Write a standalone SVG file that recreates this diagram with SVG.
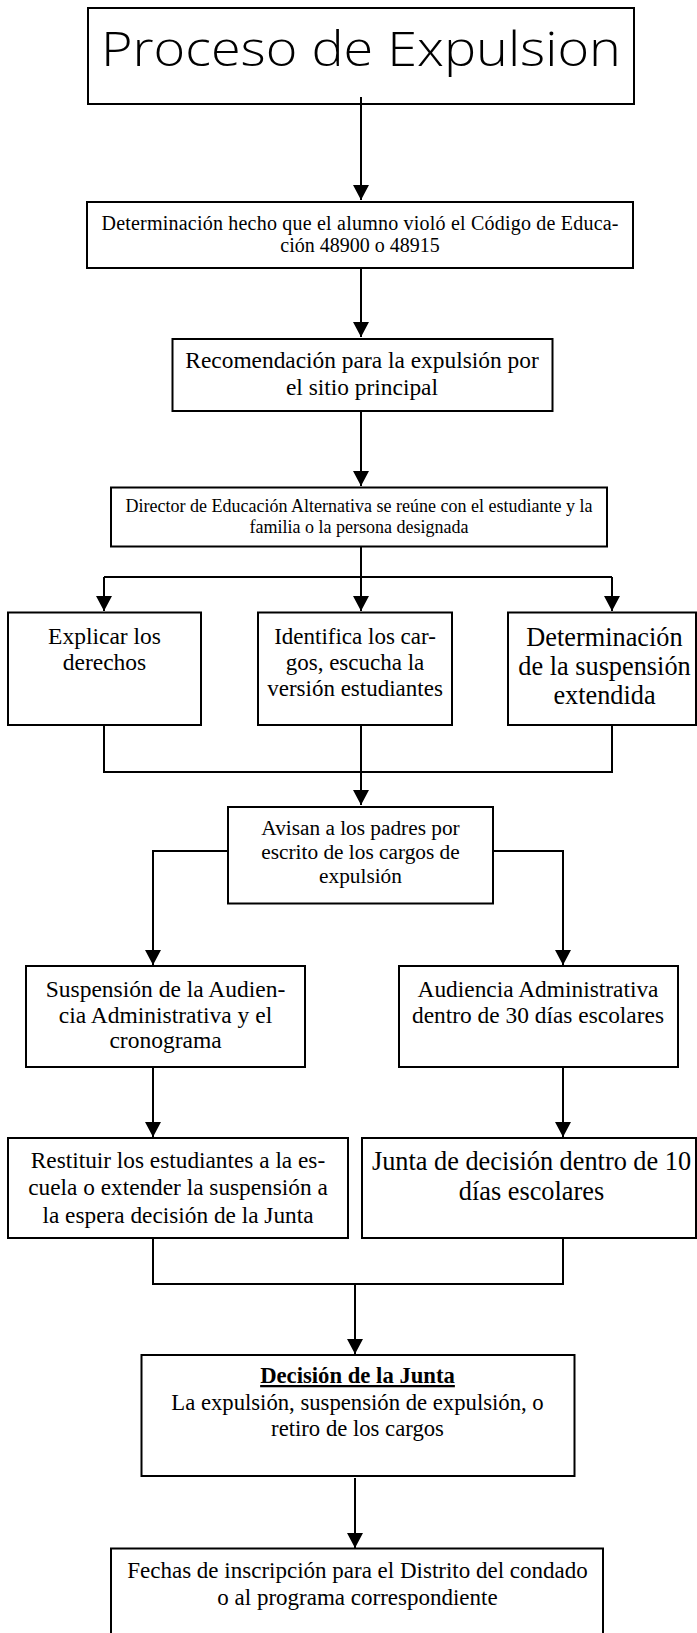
<svg xmlns="http://www.w3.org/2000/svg" width="697" height="1633" viewBox="0 0 697 1633">
<style>
.box{fill:#fff;stroke:#000;stroke-width:2}
.t{font-family:"Liberation Serif","Times New Roman",serif;fill:#000;text-anchor:middle}
.title{font-family:"Open Sans","DejaVu Sans",sans-serif;font-weight:300;fill:#000}
.c{fill:none;stroke:#000;stroke-width:2}
</style>
<defs>
<marker id="ah" markerUnits="userSpaceOnUse" markerWidth="15" markerHeight="16" viewBox="0 0 15 16" refX="15" refY="8" orient="auto">
<path d="M0,0 L15,8 L0,16 z" fill="#000"/>
</marker>
</defs>
<g id="n1"><rect class="box" x="88" y="8" width="546" height="96"/>
<text class="title" x="101" y="66" font-size="48" textLength="520" lengthAdjust="spacingAndGlyphs">Proceso de Expulsion</text></g>
<g id="connectors">
<path class="c" d="M361,97 V200" marker-end="url(#ah)"/>
<path class="c" d="M361,268 V337" marker-end="url(#ah)"/>
<path class="c" d="M361,411 V486" marker-end="url(#ah)"/>
<path class="c" d="M361,547 V577 M104,577 H612"/>
<path class="c" d="M104,577 V611" marker-end="url(#ah)"/>
<path class="c" d="M361,577 V611" marker-end="url(#ah)"/>
<path class="c" d="M612,577 V611" marker-end="url(#ah)"/>
<path class="c" d="M104,725 V772 H612 V725"/>
<path class="c" d="M361,725 V805" marker-end="url(#ah)"/>
<path class="c" d="M228,851 H153 V965" marker-end="url(#ah)"/>
<path class="c" d="M493,851 H563 V965" marker-end="url(#ah)"/>
<path class="c" d="M153,1067 V1137" marker-end="url(#ah)"/>
<path class="c" d="M563,1067 V1137" marker-end="url(#ah)"/>
<path class="c" d="M153,1238 V1284 H563 V1238"/>
<path class="c" d="M355,1284 V1354" marker-end="url(#ah)"/>
<path class="c" d="M355,1478 V1548" marker-end="url(#ah)"/>
</g>
<g id="n2"><rect class="box" x="87" y="202" width="546" height="66"/>
<text class="t" font-size="20" x="360" y="230" textLength="517" lengthAdjust="spacing">Determinación hecho que el alumno violó el Código de Educa-</text>
<text class="t" font-size="20" x="360" y="252">ción 48900 o 48915</text></g>
<g id="n3"><rect class="box" x="172.5" y="339" width="380" height="72"/>
<text class="t" font-size="23.4" x="362" y="368">Recomendación para la expulsión por</text>
<text class="t" font-size="23.4" x="362" y="395">el sitio principal</text></g>
<g id="n4"><rect class="box" x="111" y="487.5" width="496" height="59"/>
<text class="t" font-size="18" x="359" y="511.5">Director de Educación Alternativa se reúne con el estudiante y la</text>
<text class="t" font-size="18" x="359" y="532.5">familia o la persona designada</text></g>
<g id="n5"><rect class="box" x="8" y="612.5" width="193" height="112.5"/>
<text class="t" font-size="23.5" x="104.5" y="643.5">Explicar los</text>
<text class="t" font-size="23.5" x="104.5" y="670">derechos</text></g>
<g id="n6"><rect class="box" x="258" y="612.5" width="194" height="112.5"/>
<text class="t" font-size="23" x="355" y="643.5">Identifica los car-</text>
<text class="t" font-size="23" x="355" y="670">gos, escucha la</text>
<text class="t" font-size="23" x="355" y="696">versión estudiantes</text></g>
<g id="n7"><rect class="box" x="508" y="612.5" width="188" height="112.5"/>
<text class="t" font-size="26.3" x="604.5" y="646">Determinación</text>
<text class="t" font-size="26.3" x="604.5" y="675">de la suspensión</text>
<text class="t" font-size="26.3" x="604.5" y="704">extendida</text></g>
<g id="n8"><rect class="box" x="228" y="807" width="265" height="96.5"/>
<text class="t" font-size="21.3" x="360.5" y="835">Avisan a los padres por</text>
<text class="t" font-size="21.3" x="360.5" y="859">escrito de los cargos de</text>
<text class="t" font-size="21.3" x="360.5" y="883">expulsión</text></g>
<g id="n9"><rect class="box" x="26" y="966" width="279" height="101"/>
<text class="t" font-size="23.5" x="165.5" y="997">Suspensión de la Audien-</text>
<text class="t" font-size="23.5" x="165.5" y="1022.5">cia Administrativa y el</text>
<text class="t" font-size="23.5" x="165.5" y="1048">cronograma</text></g>
<g id="n10"><rect class="box" x="399" y="966" width="279" height="101"/>
<text class="t" font-size="23.4" x="538" y="997">Audiencia Administrativa</text>
<text class="t" font-size="23.4" x="538" y="1022.5">dentro de 30 días escolares</text></g>
<g id="n11"><rect class="box" x="8" y="1138" width="340" height="100"/>
<text class="t" font-size="23.3" x="178" y="1167.5">Restituir los estudiantes a la es-</text>
<text class="t" font-size="23.3" x="178" y="1195">cuela o extender la suspensión a</text>
<text class="t" font-size="23.3" x="178" y="1222.5">la espera decisión de la Junta</text></g>
<g id="n12"><rect class="box" x="362" y="1138" width="334" height="100"/>
<text class="t" font-size="26.3" x="531.5" y="1170">Junta de decisión dentro de 10</text>
<text class="t" font-size="26.3" x="531.5" y="1200">días escolares</text></g>
<g id="n13"><rect class="box" x="141.5" y="1355" width="433" height="121"/>
<text class="t" font-size="22.7" x="357.5" y="1383" font-weight="bold" text-decoration="underline">Decisión de la Junta</text>
<text class="t" font-size="22.7" x="357.5" y="1409.5">La expulsión, suspensión de expulsión, o</text>
<text class="t" font-size="22.7" x="357.5" y="1435.5">retiro de los cargos</text></g>
<g id="n14"><rect class="box" x="111" y="1548.5" width="492" height="100"/>
<text class="t" font-size="23" x="357.5" y="1578">Fechas de inscripción para el Distrito del condado</text>
<text class="t" font-size="23" x="357.5" y="1605">o al programa correspondiente</text></g>
</svg>
